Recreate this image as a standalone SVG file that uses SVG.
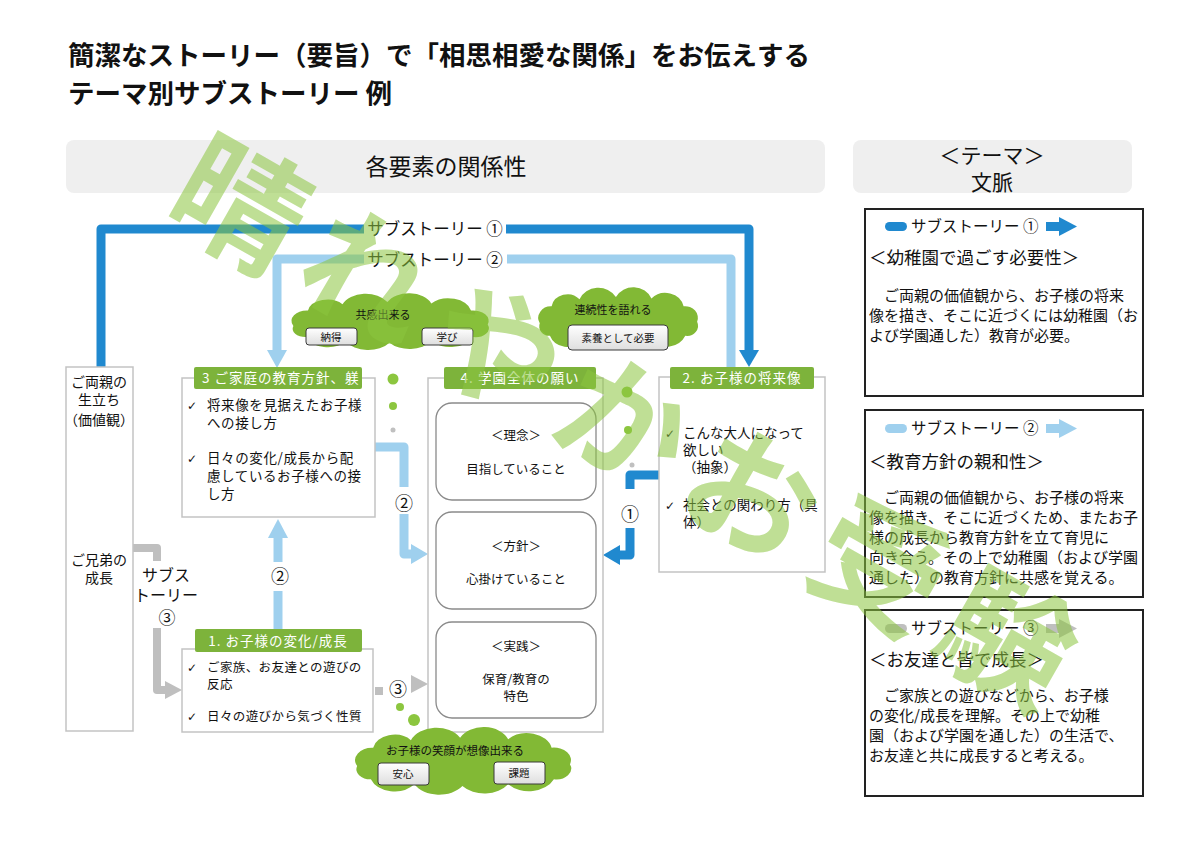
<svg xmlns="http://www.w3.org/2000/svg" width="1200" height="849" viewBox="0 0 1200 849">
<style>
.t{font-family:'Noto Sans CJK JP','Noto Sans CJK SC',sans-serif;fill:#111}
.c{text-anchor:middle}
.box{fill:#fff;stroke:#c3c3c3;stroke-width:1.5}
.ibox{fill:#fff;stroke:#8a8a8a;stroke-width:1.3}
.hdr{fill:#7db33b}
.hdrt{fill:#fff;font-size:13.5px;letter-spacing:1px}
.rbox{fill:#fff;stroke:#222;stroke-width:2}
.gbar{fill:#efefef}
.dk{stroke:#2089cf;stroke-width:9;fill:none;stroke-linejoin:round}
.lt{stroke:#9fd0ee;stroke-width:9;fill:none;stroke-linejoin:round}
.gy{stroke:#bfbfbf;stroke-width:8;fill:none;stroke-linejoin:round}
.dkf{fill:#2089cf}.ltf{fill:#9fd0ee}.gyf{fill:#bfbfbf}
.cloud{fill:#82b935}
.cb{fill:url(#cbg);stroke:#3a3a3a;stroke-width:1}
.ck{font-family:'DejaVu Sans',sans-serif;fill:#111;font-size:12px}
.bt{font-size:13.5px;letter-spacing:0.6px}
.para{font-size:15px}
</style>
<defs>
<linearGradient id="cbg" x1="0" y1="0" x2="0" y2="1"><stop offset="0" stop-color="#ffffff"/><stop offset="1" stop-color="#dedede"/></linearGradient>
<path id="cloudp" d="M8 36 A15 15 0 0 1 22 14 A19 19 0 0 1 55 5 A24 24 0 0 1 98 2 A23 23 0 0 1 140 4 A22 22 0 0 1 178 14 A15 15 0 0 1 194 34 A13 13 0 0 1 180 52 A24 24 0 0 1 140 58 A25 25 0 0 1 100 60 A25 25 0 0 1 58 58 A22 22 0 0 1 20 52 A12 12 0 0 1 8 36 Z"/>
</defs>
<rect width="1200" height="849" fill="#fff"/>

<g id="title" class="t" font-weight="bold" font-size="26.5">
<text x="68" y="65">簡潔なストーリー（要旨）で「相思相愛な関係」をお伝えする</text>
<text x="68" y="103">テーマ別サブストーリー 例</text>
</g>

<g id="header-left"><rect class="gbar" x="66" y="140" width="759" height="53" rx="8"/><text class="t c" x="446" y="175" font-size="23">各要素の関係性</text></g>
<g id="header-right"><rect class="gbar" x="853" y="140" width="279" height="53" rx="8"/><text class="t c" x="992" y="163" font-size="21">＜テーマ＞</text><text class="t c" x="992" y="190" font-size="21">文脈</text></g>

<g id="connectors">
<polyline class="dk" points="101,370 101,229 364,229"/>
<polyline class="dk" points="506,229 749,229 749,352"/>
<polygon class="dkf" points="739,350 759,350 749,367"/>
<polyline class="lt" points="277,352 277,259 364,259"/>
<polyline class="lt" points="507,259 731,259 731,368"/>
<polygon class="ltf" points="267,350 287,350 277,368"/>
<polyline class="lt" points="375,447 404,447 404,487"/>
<polyline class="lt" points="404,514 404,554 414,554"/>
<polygon class="ltf" points="411,544 411,564 428,554"/>
<polyline class="lt" points="278,629 278,591"/>
<polyline class="lt" points="278,562 278,536"/>
<polygon class="ltf" points="268,538 288,538 278,519"/>
<polyline class="dk" points="659,475 630,475 630,489"/>
<polyline class="dk" points="630,528 630,555 618,555"/>
<polygon class="dkf" points="620,545 620,565 603,555"/>
<polyline class="gy" points="133,548 157,548 157,561"/>
<polyline class="gy" points="157,628 157,690 167,690"/>
<polygon class="gyf" points="165,681 165,699 182,690"/>
<rect class="gyf" x="375" y="687" width="8" height="8"/>
<polygon class="gyf" points="411,675 411,693 428,684"/>
<text class="t c" x="435" y="235" font-size="16.5">サブストーリー ①</text>
<text class="t c" x="435" y="266" font-size="16.5">サブストーリー ②</text>
<text class="t c" x="404" y="510" font-size="18">②</text>
<text class="t c" x="280" y="583" font-size="18">②</text>
<text class="t c" x="630" y="521" font-size="18">①</text>
<text class="t c" x="398" y="696" font-size="18">③</text>
<text class="t c" x="166" y="581" font-size="16">サブス</text>
<text class="t c" x="166" y="601" font-size="16">トーリー</text>
<text class="t c" x="167" y="624" font-size="17">③</text>
<circle cx="393" cy="379" r="5.5" fill="#8cc63f"/><circle cx="393" cy="406" r="4" fill="#8cc63f"/><circle cx="393" cy="430" r="2.5" fill="#c0c0c0"/>
<circle cx="627" cy="392" r="5.5" fill="#8cc63f"/><circle cx="628" cy="430" r="4" fill="#8cc63f"/><circle cx="632" cy="465" r="2.5" fill="#c0c0c0"/>
<circle cx="400" cy="707" r="4" fill="#8cc63f"/><circle cx="414" cy="720" r="6" fill="#8cc63f"/>
</g>

<g id="node-parents">
<rect class="box" x="66" y="367" width="67" height="364"/>
<g class="t c" font-size="14"><text x="99" y="387">ご両親の</text><text x="99" y="405">生立ち</text><text x="99" y="425">（価値観）</text><text x="99" y="565">ご兄弟の</text><text x="99" y="583">成長</text></g>
</g>

<g id="node-3">
<rect class="box" x="182" y="378" width="193" height="139"/>
<rect class="hdr" x="194" y="367" width="168" height="22" rx="2"/>
<text class="t hdrt" x="202" y="383">3 ご家庭の教育方針、躾</text>
<text class="ck" x="187" y="410">✓</text><text class="ck" x="187" y="463">✓</text>
<g class="t bt"><text x="207" y="410">将来像を見据えたお子様</text><text x="207" y="428">への接し方</text><text x="207" y="463">日々の変化/成長から配</text><text x="207" y="481">慮しているお子様への接</text><text x="207" y="499">し方</text></g>
</g>

<g id="node-4">
<rect class="box" x="428" y="378" width="175" height="354"/>
<rect class="hdr" x="444" y="367" width="152" height="22" rx="2"/>
<text class="t hdrt c" x="520" y="383">4. 学園全体の願い</text>
<rect class="ibox" x="436" y="403" width="160" height="97" rx="16"/>
<rect class="ibox" x="436" y="512" width="160" height="97" rx="16"/>
<rect class="ibox" x="436" y="622" width="160" height="96" rx="16"/>
<g class="t c" font-size="12.5"><text x="516" y="440">＜理念＞</text><text x="516" y="474">目指していること</text><text x="516" y="551">＜方針＞</text><text x="516" y="584">心掛けていること</text><text x="516" y="651">＜実践＞</text><text x="516" y="684">保育/教育の</text><text x="516" y="701">特色</text></g>
</g>

<g id="node-2">
<rect class="box" x="659" y="377" width="166" height="195"/>
<rect class="hdr" x="670" y="367" width="144" height="22" rx="2"/>
<text class="t hdrt c" x="742" y="383">2. お子様の将来像</text>
<text class="ck" x="665" y="438">✓</text><text class="ck" x="665" y="510">✓</text>
<g class="t" font-size="13.5"><text x="683" y="438">こんな大人になって</text><text x="683" y="455">欲しい</text><text x="683" y="472">（抽象）</text><text x="683" y="510">社会との関わり方（具</text><text x="683" y="527">体）</text></g>
</g>

<g id="node-1">
<rect class="box" x="182" y="649" width="191" height="83"/>
<rect class="hdr" x="195" y="629" width="167" height="23" rx="2"/>
<text class="t hdrt c" x="278" y="646">1. お子様の変化/成長</text>
<text class="ck" x="187" y="672">✓</text><text class="ck" x="187" y="721">✓</text>
<g class="t" font-size="12.5" letter-spacing="0.4"><text x="207" y="672">ご家族、お友達との遊びの</text><text x="207" y="689">反応</text><text x="207" y="721">日々の遊びから気づく性質</text></g>
</g>

<g id="cloud-1">
<use href="#cloudp" class="cloud" transform="translate(285,300.7) scale(1.045,0.70)"/>
<text class="t c" x="383" y="319" font-size="11">共感出来る</text>
<rect class="cb" x="306" y="328" width="51" height="17" rx="3"/><text class="t c" x="331" y="341" font-size="10.5">納得</text>
<rect class="cb" x="422" y="328" width="51" height="17" rx="3"/><text class="t c" x="447" y="341" font-size="10.5">学び</text>
</g>
<g id="cloud-2">
<use href="#cloudp" class="cloud" transform="translate(533,295.5) scale(0.846,0.774)"/>
<text class="t c" x="613" y="314" font-size="11">連続性を語れる</text>
<rect class="cb" x="568" y="325" width="100" height="25" rx="4"/><text class="t c" x="618" y="342" font-size="10.5">素養として必要</text>
</g>
<g id="cloud-3">
<use href="#cloudp" class="cloud" transform="translate(348,736) scale(1.144,0.833)"/>
<text class="t c" x="455" y="755" font-size="11.5">お子様の笑顔が想像出来る</text>
<rect class="cb" x="378" y="763" width="51" height="22" rx="3"/><text class="t c" x="403" y="778" font-size="10.5">安心</text>
<rect class="cb" x="494" y="762" width="51" height="22" rx="3"/><text class="t c" x="519" y="777" font-size="10.5">課題</text>
</g>

<g id="theme-1">
<rect class="rbox" x="865" y="209" width="278" height="187"/>
<rect class="dkf" x="885" y="222" width="22" height="9" rx="4.5"/>
<rect class="dkf" x="1046" y="222" width="14" height="9"/><polygon class="dkf" points="1059,217 1059,236 1077,226.5"/>
<text class="t" x="911" y="232" font-size="15.5">サブストーリー ①</text>
<text class="t" x="869" y="264" font-size="17.5">＜幼稚園で過ごす必要性＞</text>
<g class="t para"><text x="869" y="301">　ご両親の価値観から、お子様の将来</text><text x="869" y="321">像を描き、そこに近づくには幼稚園（お</text><text x="869" y="341">よび学園通した）教育が必要。</text></g>
</g>
<g id="theme-2">
<rect class="rbox" x="865" y="410" width="278" height="187"/>
<rect class="ltf" x="885" y="424" width="22" height="9" rx="4.5"/>
<rect class="ltf" x="1046" y="424" width="14" height="9"/><polygon class="ltf" points="1059,419 1059,438 1077,428.5"/>
<text class="t" x="911" y="434" font-size="15.5">サブストーリー ②</text>
<text class="t" x="869" y="468" font-size="17.5">＜教育方針の親和性＞</text>
<g class="t para"><text x="869" y="503">　ご両親の価値観から、お子様の将来</text><text x="869" y="523">像を描き、そこに近づくため、またお子</text><text x="869" y="543">様の成長から教育方針を立て育児に</text><text x="869" y="563">向き合う。その上で幼稚園（および学園</text><text x="869" y="583">通した）の教育方針に共感を覚える。</text></g>
</g>
<g id="theme-3">
<rect class="rbox" x="865" y="610" width="278" height="186"/>
<rect class="gyf" x="885" y="624" width="22" height="9" rx="4.5"/>
<rect class="gyf" x="1046" y="624" width="14" height="9"/><polygon class="gyf" points="1059,619 1059,638 1077,628.5"/>
<text class="t" x="911" y="634" font-size="15.5">サブストーリー ③</text>
<text class="t" x="869" y="666" font-size="17.5">＜お友達と皆で成長＞</text>
<g class="t para"><text x="869" y="701">　ご家族との遊びなどから、お子様</text><text x="869" y="721">の変化/成長を理解。その上で幼稚</text><text x="869" y="741">園（および学園を通した）の生活で、</text><text x="869" y="761">お友達と共に成長すると考える。</text></g>
</g>

<g id="watermark" opacity="0.55">
<text transform="translate(240,205) rotate(29.6)" x="-65" y="47" font-family="'Noto Sans CJK JP',sans-serif" font-weight="bold" font-size="130" letter-spacing="17" fill="#8cc63f">晴れやかお受験</text>
</g>
</svg>
